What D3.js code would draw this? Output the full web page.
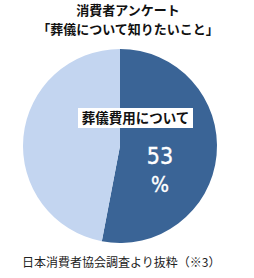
<!DOCTYPE html>
<html>
<head>
<meta charset="utf-8">
<script src="https://cdn.jsdelivr.net/npm/d3@7"></script>
<style>
  html, body { margin: 0; padding: 0; background: #fff; }
  svg { display: block; font-family: "Noto Sans CJK JP", sans-serif; }
</style>
</head>
<body>
<svg id="chart" width="254" height="278"></svg>
<script>
// survey data
var titleLines = ['消費者アンケート', '「葬儀について知りたいこと」'];
var categories = ['葬儀費用について', 'その他'];
var values = [53, 47];
var colors = ['#3a6496', '#c3d5f0'];
var sourceNote = '日本消費者協会調査より抜粋（※3）';

var svg = d3.select('#chart');
var cx = 120, cy = 146, r = 97;

// title
svg.selectAll('text.title')
  .data(titleLines)
  .enter().append('text')
  .attr('class', 'title')
  .attr('x', 128)
  .attr('y', function(d, i) { return 15 + i * 19; })
  .attr('text-anchor', 'middle')
  .attr('font-size', 13)
  .attr('font-weight', 'bold')
  .attr('fill', '#111')
  .text(function(d) { return d; });

var pie = d3.pie().sort(null).value(function(d) { return d; });
var arc = d3.arc().innerRadius(0).outerRadius(r);

var g = svg.append('g').attr('transform', 'translate(' + cx + ',' + cy + ')');
g.selectAll('path')
  .data(pie(values))
  .enter().append('path')
  .attr('d', arc)
  .attr('fill', function(d, i) { return colors[i]; });

// label box for the main slice
svg.append('rect')
  .attr('x', 78).attr('y', 108)
  .attr('width', 115).attr('height', 20)
  .attr('fill', '#fff');
svg.append('text')
  .attr('x', 135.5).attr('y', 123)
  .attr('text-anchor', 'middle')
  .attr('font-size', 13.5)
  .attr('font-weight', 'bold')
  .attr('fill', '#111')
  .text(categories[0]);

// percentage
svg.append('text')
  .attr('x', 160).attr('y', 164)
  .attr('text-anchor', 'middle')
  .attr('font-family', 'Liberation Sans Narrow, DejaVu Sans Condensed, sans-serif')
  .attr('font-size', 23)
  .attr('fill', '#fff')
  .attr('stroke', '#fff').attr('stroke-width', 0.4)
  .text(values[0]);
svg.append('text')
  .attr('x', 160).attr('y', 192)
  .attr('text-anchor', 'middle')
  .attr('font-family', 'Liberation Sans Narrow, DejaVu Sans Condensed, sans-serif')
  .attr('font-size', 21)
  .attr('fill', '#fff')
  .attr('stroke', '#fff').attr('stroke-width', 0.4)
  .text('%');

// source
svg.append('text')
  .attr('x', 22).attr('y', 267)
  .attr('font-size', 12)
  .attr('fill', '#222')
  .text(sourceNote);
</script>
</body>
</html>
